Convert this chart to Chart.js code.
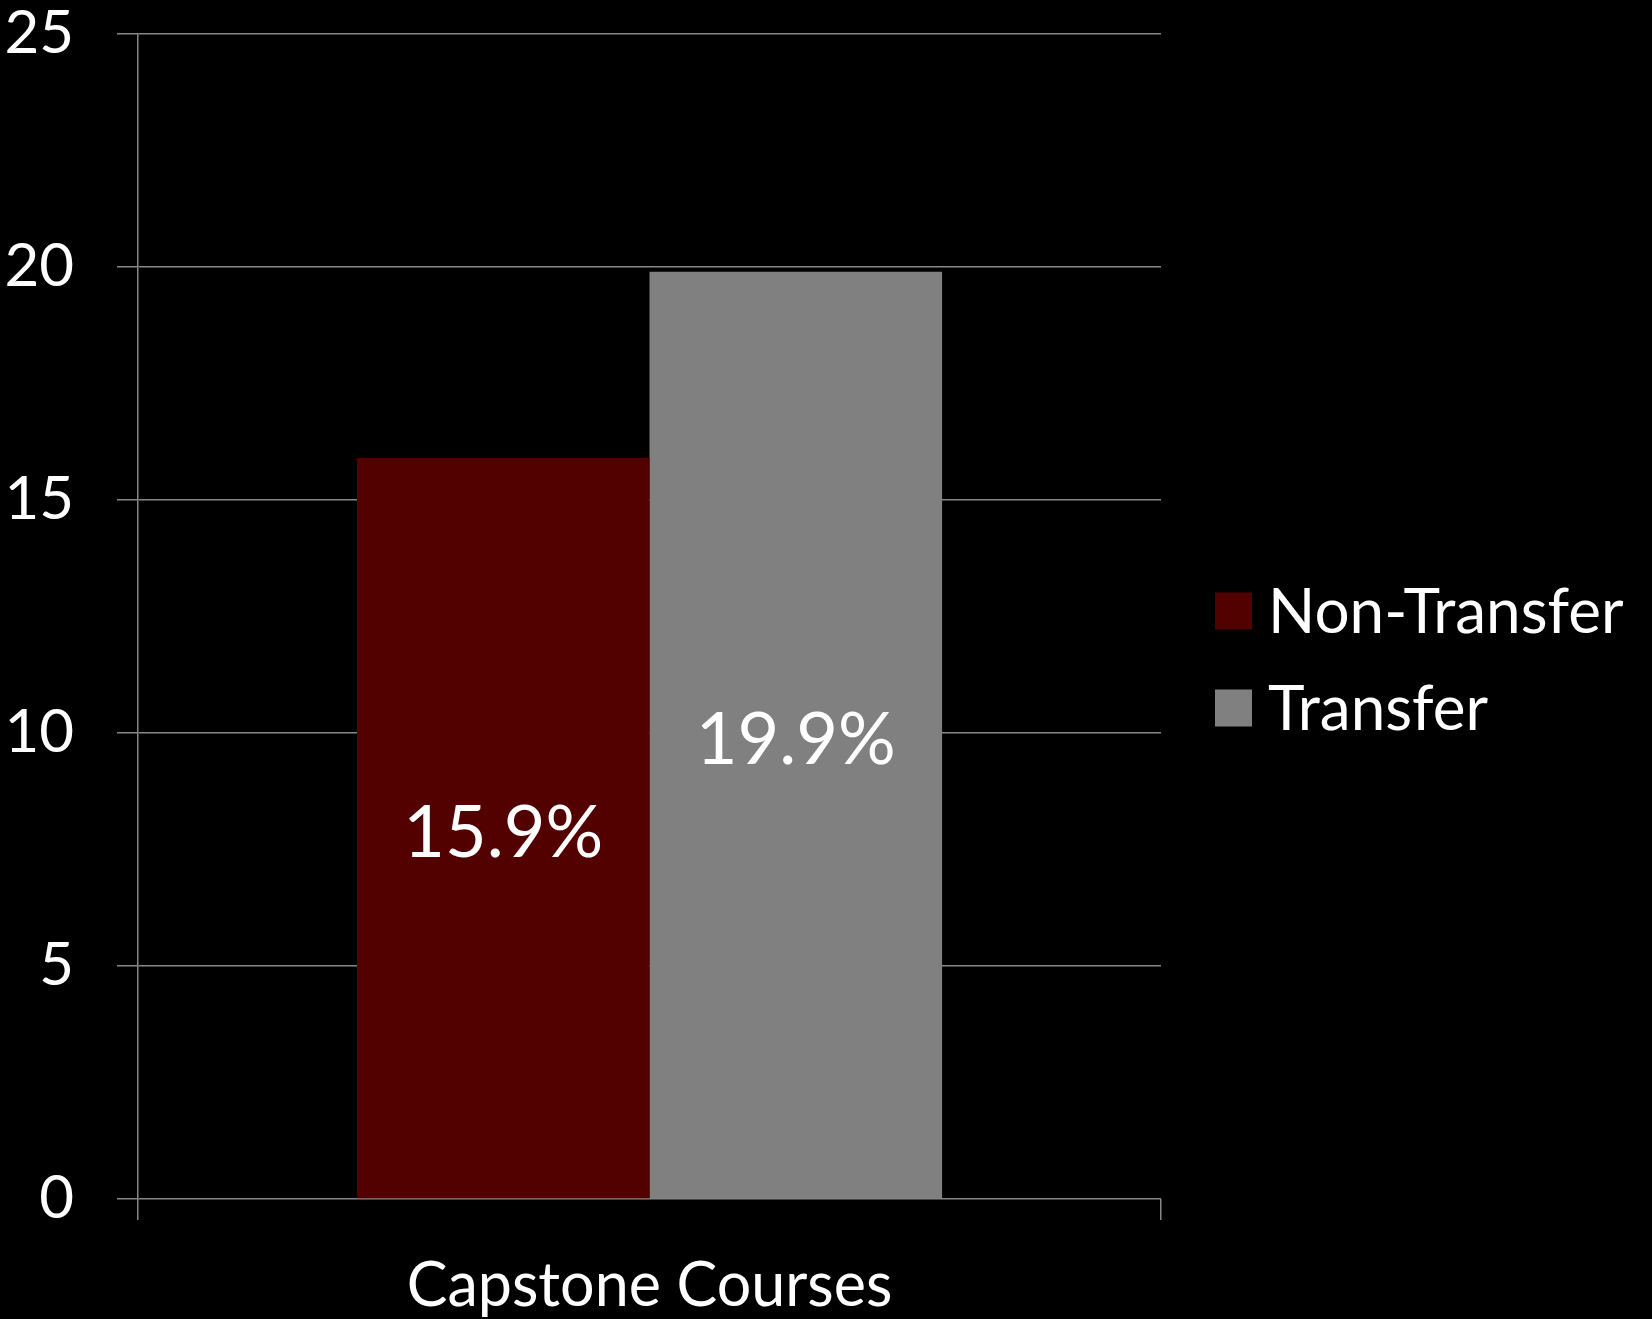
<!DOCTYPE html>
<html>
<head>
<meta charset="utf-8">
<title>Capstone Courses</title>
<script src="https://cdn.jsdelivr.net/npm/chart.js@4.4.1/dist/chart.umd.min.js"></script>
<style>
    html, body { margin: 0; padding: 0; background: #000; }
    canvas { display: block; }
</style>
</head>
<body>
<canvas id="barChart" width="1652" height="1319"></canvas>
<script>
// Chart data
var categories = ['Capstone Courses'];
var seriesNames = ['Non-Transfer', 'Transfer'];
var nonTransfer = [15.9];
var transfer = [19.9];
var seriesColors = ['#530000', '#808080'];
var yTicks = [0, 5, 10, 15, 20, 25];

var fontFamily = 'Lato, Carlito, "Open Sans", sans-serif';
var gridColor = '#878787';

// Percent labels in the middle of each bar
var barLabels = {
    id: 'barLabels',
    afterDatasetsDraw: function (chart) {
        var ctx = chart.ctx;
        ctx.save();
        ctx.fillStyle = '#ffffff';
        ctx.font = '72px ' + fontFamily;
        ctx.textAlign = 'center';
        ctx.textBaseline = 'middle';
        chart.data.datasets.forEach(function (ds, i) {
            chart.getDatasetMeta(i).data.forEach(function (bar, j) {
                var y = (bar.y + bar.base) / 2 + 6;
                ctx.fillText(ds.data[j].toFixed(1) + '%', bar.x, y);
            });
        });
        ctx.restore();
    }
};

// Legend to the right of the plot, centred vertically
var sideLegend = {
    id: 'sideLegend',
    afterDraw: function (chart) {
        var ctx = chart.ctx;
        var box = 37;
        var rowGap = 97;
        var x = chart.chartArea.right + 54;
        var n = chart.data.datasets.length;
        var y0 = chart.height / 2 - (n - 1) * rowGap / 2;
        ctx.save();
        ctx.font = '62px ' + fontFamily;
        ctx.textBaseline = 'middle';
        ctx.textAlign = 'left';
        chart.data.datasets.forEach(function (ds, i) {
            var cy = y0 + i * rowGap;
            ctx.fillStyle = ds.backgroundColor;
            ctx.fillRect(x, cy - box / 2, box, box);
            ctx.fillStyle = '#ffffff';
            ctx.fillText(ds.label, x + box + 16, cy + 2);
        });
        ctx.restore();
    }
};

var barCtx = document.getElementById('barChart').getContext('2d');
var barChart = new Chart(barCtx, {
    type: 'bar',
    data: {
        labels: categories,
        datasets: [{
            label: seriesNames[0],
            data: nonTransfer,
            backgroundColor: seriesColors[0]
        }, {
            label: seriesNames[1],
            data: transfer,
            backgroundColor: seriesColors[1]
        }]
    },
    options: {
        responsive: false,
        animation: false,
        devicePixelRatio: 1,
        categoryPercentage: 0.572,
        barPercentage: 1,
        layout: {
            padding: { top: 34, right: 491, bottom: 0, left: 0 }
        },
        plugins: {
            legend: { display: false },
            tooltip: { enabled: false }
        },
        scales: {
            x: {
                grid: {
                    offset: true,
                    drawOnChartArea: false,
                    color: gridColor,
                    lineWidth: 1.5,
                    tickLength: 21
                },
                border: { display: false },
                ticks: {
                    color: '#ffffff',
                    font: { family: fontFamily, size: 61 },
                    padding: 30
                },
                afterFit: function (scale) {
                    scale.height = 120;
                    scale.paddingLeft = 0;
                    scale.paddingRight = 0;
                }
            },
            y: {
                min: 0,
                max: 25,
                afterBuildTicks: function (scale) {
                    scale.ticks = yTicks.map(function (v) { return { value: v }; });
                },
                grid: {
                    color: gridColor,
                    lineWidth: 1.5,
                    tickLength: 21
                },
                border: { color: gridColor, width: 1.5 },
                ticks: {
                    color: '#ffffff',
                    font: { family: fontFamily, size: 60 },
                    padding: 43
                },
                afterFit: function (scale) {
                    scale.width = 138;
                    scale.paddingTop = 0;
                    scale.paddingBottom = 0;
                }
            }
        }
    },
    plugins: [barLabels, sideLegend]
});
</script>
</body>
</html>
